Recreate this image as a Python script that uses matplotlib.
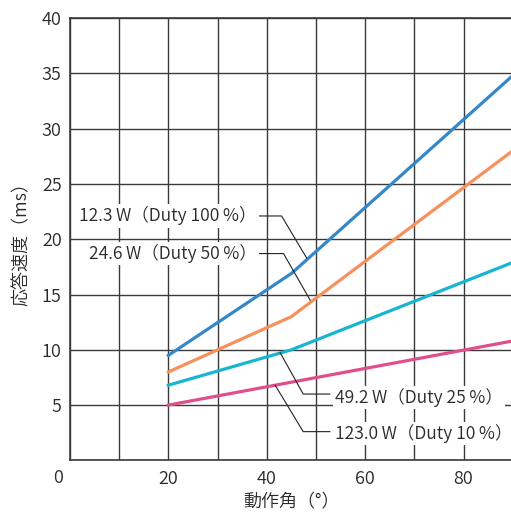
import matplotlib
matplotlib.use("Agg")
import matplotlib.pyplot as plt

plt.rcParams['font.family'] = ['Noto Sans CJK JP', 'DejaVu Sans']

# Data
x_blue = [20, 45, 90]
y_blue = [9.5, 16.9, 34.8]
x_orange = [20, 45, 90]
y_orange = [8.0, 13.0, 28.0]
x_cyan = [20, 45, 90]
y_cyan = [6.8, 10.0, 17.9]
x_mag = [20, 90]
y_mag = [5.0, 10.8]

labels = ["12.3\u2009W（Duty 100\u2009%）", "24.6\u2009W（Duty 50\u2009%）",
          "49.2\u2009W（Duty 25\u2009%）", "123.0\u2009W（Duty 10\u2009%）"]

colors = ["#3487c9", "#f7905a", "#17b5cf", "#df4f8e"]
grid_c = "#3a3a3a"
txt_c = "#2a2a2a"
fw = 350

fig = plt.figure(figsize=(5.11, 5.16), dpi=100)
ax = fig.add_axes([70/511, (516-460.4)/516, 442.8/511, 442.4/516])
ax.set_xlim(0, 90)
ax.set_ylim(0, 40)

ax.set_xticks(range(0, 91, 10))
ax.set_yticks(range(0, 41, 5))
ax.grid(True, color=grid_c, linewidth=1.0)
ax.set_axisbelow(True)
ax.tick_params(axis='y', length=0, labelsize=13, colors=txt_c, pad=6)
ax.tick_params(axis='x', length=0, labelsize=13, colors=txt_c, pad=7)
ax.set_xticklabels(["" if (v % 20 or v == 0) else str(v) for v in range(0, 91, 10)], fontweight=fw)
ax.set_yticklabels(["" if v == 0 else str(v) for v in range(0, 41, 5)], fontweight=fw)
for s in ["left", "bottom"]:
    ax.spines[s].set_color(grid_c)
    ax.spines[s].set_linewidth(1.2)
for s in ["right", "top"]:
    ax.spines[s].set_visible(False)
ax.axhline(40, color=grid_c, linewidth=1.2, clip_on=False)

# origin label
ax.text(-2.4, -1.6, "0", ha="center", va="center", fontsize=13, color=txt_c, fontweight=fw)

ax.plot(x_blue, y_blue, color=colors[0], lw=2.3, zorder=3)
ax.plot(x_orange, y_orange, color=colors[1], lw=2.3, zorder=3)
ax.plot(x_cyan, y_cyan, color=colors[2], lw=2.3, zorder=3)
ax.plot(x_mag, y_mag, color=colors[3], lw=2.3, zorder=3)

lc = "#222222"
# leader lines
ax.plot([37.6, 43.0, 48.1], [22.1, 22.1, 18.3], color=lc, lw=0.8, zorder=4)
ax.plot([37.6, 43.4, 48.8], [18.7, 18.7, 14.5], color=lc, lw=0.8, zorder=4)
ax.plot([42.7, 47.4, 52.8], [9.75, 6.0, 6.0], color=lc, lw=0.8, zorder=4)
ax.plot([41.7, 47.4, 52.8], [6.8, 2.6, 2.6], color=lc, lw=0.8, zorder=4)

bb = dict(facecolor="white", edgecolor="none", pad=1.5)
ax.text(37.9, 22.1, labels[0], ha="right", va="center", fontsize=12.6, color=txt_c, bbox=bb, zorder=5, fontweight=fw)
ax.text(37.9, 18.7, labels[1], ha="right", va="center", fontsize=12.6, color=txt_c, bbox=bb, zorder=5, fontweight=fw)
ax.text(53.8, 5.7, labels[2], ha="left", va="center", fontsize=12.6, color=txt_c, bbox=bb, zorder=5, fontweight=fw)
ax.text(53.8, 2.4, labels[3], ha="left", va="center", fontsize=12.6, color=txt_c, bbox=bb, zorder=5, fontweight=fw)

ax.set_xlabel("動作角（°）", fontsize=13, color=txt_c, labelpad=4, fontweight=fw)
ax.set_ylabel("応答速度（ms）", fontsize=13, color=txt_c, labelpad=8, fontweight=fw)

fig.savefig("out.png", dpi=100)
